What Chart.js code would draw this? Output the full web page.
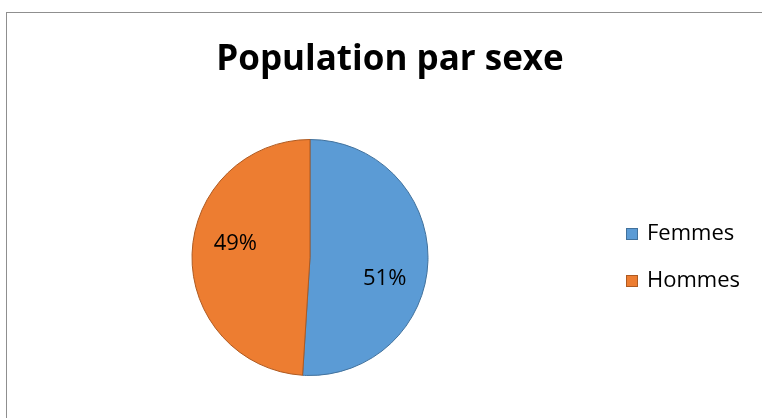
<!DOCTYPE html>
<html>
<head>
<meta charset="utf-8">
<script src="https://cdn.jsdelivr.net/npm/chart.js@4.4.1/dist/chart.umd.min.js"></script>
<style>
  html, body { margin: 0; padding: 0; background: #fff; overflow: hidden; }
  #wrap { position: relative; width: 762px; height: 418px; }
  #frame { position: absolute; left: 6px; top: 12px; width: 800px; height: 500px; border: 1px solid #8f8f8f; }
  canvas { position: absolute; left: 0; top: 0; }
</style>
</head>
<body>
<div id="wrap">
  <div id="frame"></div>
  <canvas id="piePopulation" width="762" height="418"></canvas>
</div>
<script>
// données du graphique
var chartTitle = "Population par sexe";
var categories = ["Femmes", "Hommes"];
var values = [51, 49];
var colors = ["#5B9BD5", "#ED7D31"];
var borderColors = ["#41719C", "#AE5A21"];

var FONT = "'Open Sans', 'Liberation Sans', sans-serif";

// titre, étiquettes de pourcentage et légende
var decorations = {
    id: "decorations",
    afterDatasetsDraw: function (chart) {
        var ctx = chart.ctx;
        var meta = chart.getDatasetMeta(0);
        var total = values.reduce(function (a, b) { return a + b; }, 0);

        ctx.save();
        ctx.fillStyle = "#000";

        // étiquettes dans les parts
        ctx.font = "22px " + FONT;
        ctx.textAlign = "center";
        ctx.textBaseline = "middle";
        meta.data.forEach(function (arc, i) {
            var p = arc.getProps(["x", "y", "startAngle", "endAngle", "outerRadius"], true);
            var mid = (p.startAngle + p.endAngle) / 2 + 11.5 * Math.PI / 180;
            var r = p.outerRadius * 0.65;
            var pct = Math.round(values[i] / total * 100) + "%";
            ctx.fillText(pct, p.x + Math.cos(mid) * r, p.y + Math.sin(mid) * r + 4);
        });

        // titre
        ctx.font = "bold 35px " + FONT;
        ctx.textBaseline = "alphabetic";
        ctx.fillText(chartTitle, 390, 70);

        // légende
        ctx.font = "22px " + FONT;
        ctx.textAlign = "left";
        ctx.textBaseline = "middle";
        categories.forEach(function (label, i) {
            var y = 234 + i * 47;
            ctx.fillStyle = colors[i];
            ctx.fillRect(626, y - 6, 12, 12);
            ctx.strokeStyle = borderColors[i];
            ctx.lineWidth = 1;
            ctx.strokeRect(626.5, y - 5.5, 11, 11);
            ctx.fillStyle = "#000";
            ctx.fillText(label, 647, y);
        });
        ctx.restore();
    }
};

var ctx = document.getElementById("piePopulation").getContext("2d");
var chart = new Chart(ctx, {
    type: "pie",
    data: {
        labels: categories,
        datasets: [
            {
                data: values,
                backgroundColor: colors,
                borderColor: borderColors,
                borderWidth: 1,
            },
        ],
    },
    options: {
        responsive: false,
        animation: false,
        layout: {
            padding: { left: 191.5, right: 333.5, top: 139, bottom: 42 },
        },
        plugins: {
            legend: { display: false },
            tooltip: { enabled: false },
        },
    },
    plugins: [decorations],
});
</script>
</body>
</html>
